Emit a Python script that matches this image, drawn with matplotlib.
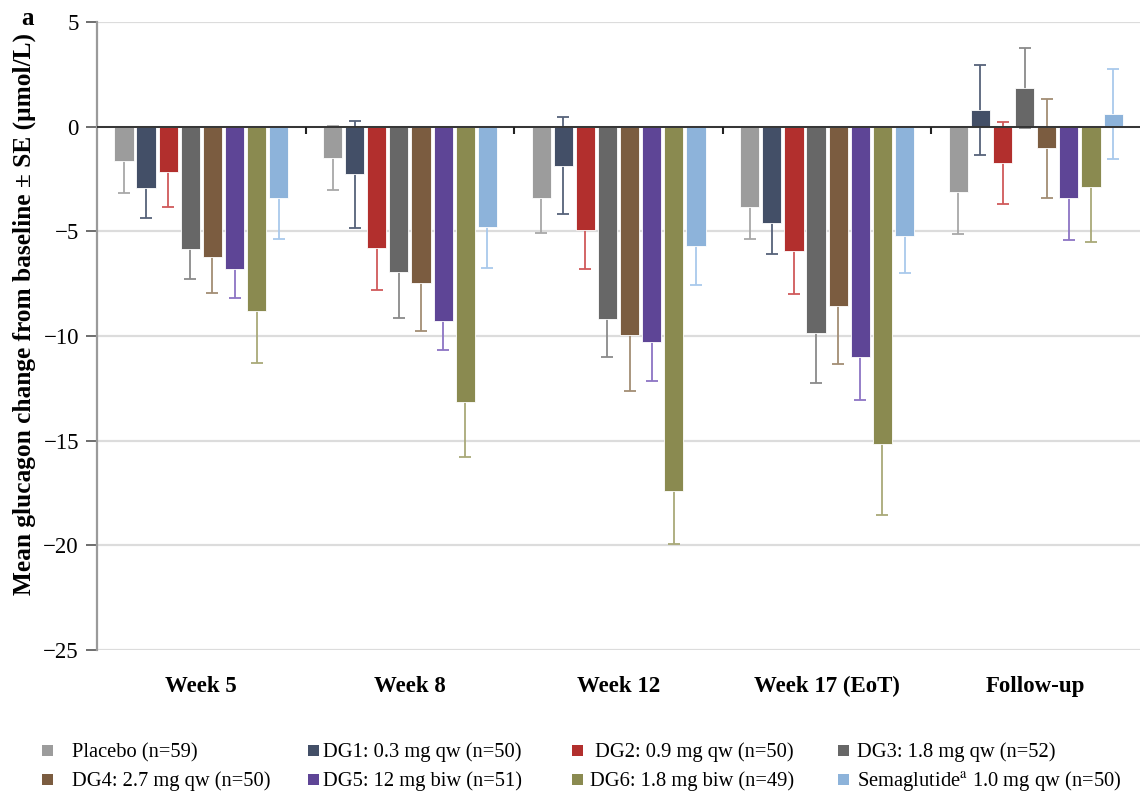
import numpy as np
import matplotlib
matplotlib.use('Agg')
import matplotlib.pyplot as plt
from matplotlib.patches import Rectangle

plt.rcParams['font.family'] = ['Liberation Serif', 'DejaVu Serif']
plt.rcParams['mathtext.fontset'] = 'stix'

# Mean change from baseline and SE per visit
weeks = ['Week 5', 'Week 8', 'Week 12', 'Week 17 (EoT)', 'Follow-up']

placebo = [-1.64, -1.52, -3.43, -3.83, -3.12]
placebo_se = [1.55, 1.53, 1.63, 1.53, 2.01]
dg1 = [-2.95, -2.28, -1.87, -4.61, 0.78]
dg1_se = [1.40, 2.55, 2.31, 1.48, 2.14]
dg2 = [-2.17, -5.81, -4.93, -5.92, -1.75]
dg2_se = [1.66, 2.00, 1.85, 2.07, 1.95]
dg3 = [-5.85, -6.94, -9.20, -9.84, 1.85]
dg3_se = [1.41, 2.18, 1.79, 2.39, 1.90]
dg4 = [-6.22, -7.48, -9.94, -8.55, -1.04]
dg4_se = [1.71, 2.30, 2.71, 2.79, 2.37]
dg5 = [-6.81, -9.27, -10.27, -10.99, -3.43]
dg5_se = [1.36, 1.40, 1.90, 2.07, 1.99]
dg6 = [-8.79, -13.14, -17.42, -15.17, -2.89]
dg6_se = [2.49, 2.66, 2.50, 3.38, 2.60]
sema = [-3.43, -4.80, -5.69, -5.22, 0.59]
sema_se = [1.94, 1.93, 1.88, 1.75, 2.15]

labels = ['Placebo (n=59)', 'DG1: 0.3 mg qw (n=50)', ' DG2: 0.9 mg qw (n=50)',
          'DG3: 1.8 mg qw (n=52)', 'DG4: 2.7 mg qw (n=50)', 'DG5: 12 mg biw (n=51)',
          'DG6: 1.8 mg biw (n=49)', r'Semaglutide$^{\mathrm{a}}$ 1.0 mg qw (n=50)']
means = [placebo, dg1, dg2, dg3, dg4, dg5, dg6, sema]
errors = [placebo_se, dg1_se, dg2_se, dg3_se, dg4_se, dg5_se, dg6_se, sema_se]
colors = ['#9c9c9c', '#434f67', '#b22f2d', '#676767', '#7b5c40', '#5e4596', '#8a8a50', '#8db3da']
ecolors = ['#a8a8a8', '#56627a', '#d0595a', '#8a8a8a', '#a38d74', '#8c74c4', '#a9a978', '#a9c9ec']

W, H = 1143, 798
fig = plt.figure(figsize=(W / 100, H / 100), dpi=100)
ax = fig.add_axes([0.0849, 0.1855, 0.9125, 0.787])

x = np.arange(len(weeks))
step = 0.106
width = 0.092
for i, (m, e, c, ec) in enumerate(zip(means, errors, colors, ecolors)):
    pos = x + (i - 3.5) * step
    # error bars sit behind the bars, so only the outer half shows
    ax.errorbar(pos, m, yerr=e, fmt='none', ecolor=ec, elinewidth=1.3,
                capsize=4, capthick=1.3, zorder=2)
    ax.bar(pos, m, width=width, color=c, edgecolor='white', linewidth=0.6, zorder=3)

ax.axhline(0, color='#333333', lw=1.4, zorder=4)
ax.vlines([0.5, 1.5, 2.5, 3.5], -0.35, 0, color='#222222', lw=1.5, zorder=4)

ax.set_xlim(-0.5, 4.5)
ax.set_ylim(-25, 5)
ax.set_yticks(np.arange(-25, 6, 5))
ax.set_yticklabels(['\u221225', '\u221220', '\u221215', '\u221210', '\u22125', '0', '5'])
ax.yaxis.grid(True, color='#dcdcdc', lw=1.6)
ax.set_axisbelow(True)
ax.set_xticks(x)
ax.set_xticklabels(weeks, fontsize=16.5, fontweight='bold')
ax.tick_params(axis='x', length=0, pad=19)
ax.tick_params(axis='y', labelsize=16.5, length=8, width=1.2, color='#555555', pad=5)
for s in ['top', 'right', 'bottom']:
    ax.spines[s].set_visible(False)
ax.spines['left'].set_color('#9a9a9a')
ax.spines['left'].set_linewidth(1.6)

ax.set_ylabel('Mean glucagon change from baseline \u00b1 SE (\u03bcmol/L)',
              fontsize=18.3, fontweight='bold')
ax.yaxis.set_label_coords(-0.059, 0.535)
fig.text(0.019, 0.977, 'a', fontsize=18, fontweight='bold', va='center')

# legend: 2 rows x 4 columns, filled row by row
box_x = [42, 308, 572, 838]
text_x = [72, 323, 590, 857]
baseline_y = [757, 786]
box = 11
for k, (lab, c) in enumerate(zip(labels, colors)):
    r, col = divmod(k, 4)
    fig.add_artist(Rectangle((box_x[col] / W, 1 - (baseline_y[r] - 1) / H), box / W, box / H,
                             transform=fig.transFigure, facecolor=c, edgecolor='none'))
    fig.text(text_x[col] / W, 1 - baseline_y[r] / H, lab, fontsize=14.8,
             ha='left', va='baseline')

fig.savefig('out.png', dpi=100)
